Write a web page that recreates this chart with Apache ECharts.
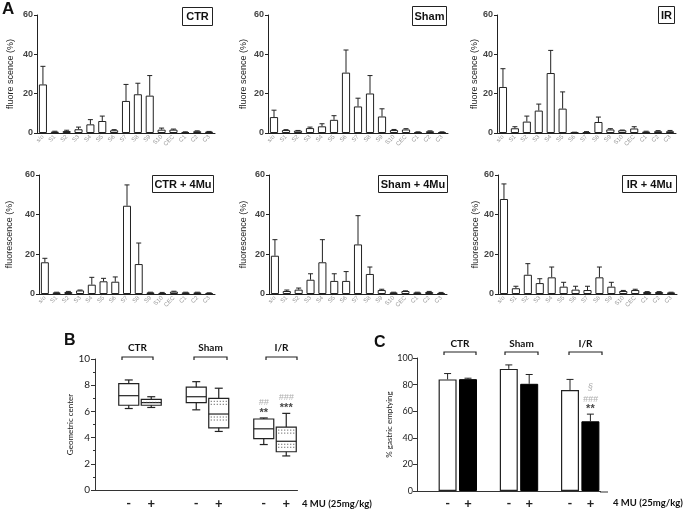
<!DOCTYPE html>
<html><head><meta charset="utf-8">
<script src="https://cdn.jsdelivr.net/npm/echarts@6/dist/echarts.min.js"></script>
<style>html,body{margin:0;padding:0;background:#fff}#c{width:685px;height:510px}</style>
</head><body><div id="c"></div>
<script>
// ---------- DATA ----------
const cats = ['s/o','S1','S2','S3','S4','S5','S6','S7','S8','S9','S10','CEC','C1','C2','C3'];
const ctrMean  = [24.7,0.7,1.0,1.9,4.4,6.1,1.4,16.3,19.7,19.0,1.7,1.7,0.4,0.9,0.7];
const ctrSem   = [9.2,0.2,0.4,1.1,2.4,2.5,0.3,8.4,5.6,10.2,0.8,0.3,0.2,0.2,0.1];
const shamMean = [8.1,1.5,1.2,2.5,3.4,6.7,30.7,13.5,20.1,8.4,1.5,1.8,0.5,0.9,0.5];
const shamSem  = [3.5,0.2,0.1,0.5,1.3,2.1,11.5,4.2,9.1,3.9,0.3,0.4,0.1,0.2,0.1];
const irMean   = [23.4,2.4,5.8,11.4,30.5,12.4,0.3,0.4,5.6,1.8,1.4,2.3,0.7,0.9,0.9];
const irSem    = [9.3,0.8,2.8,3.3,11.5,8.5,0.1,0.3,2.5,0.4,0.1,0.9,0.2,0.3,0.4];
const ctr4Mean = [16.0,0.8,1.0,1.8,4.7,6.4,6.2,44.5,15.1,0.8,0.5,1.2,0.8,0.8,0.5];
const ctr4Sem  = [2.0,0.1,0.3,0.2,3.7,1.5,2.4,10.5,10.6,0.1,0.3,0.2,0.1,0.1,0.1];
const sham4Mean= [19.3,1.5,2.2,7.2,16.0,6.6,6.6,25.0,10.1,2.0,0.8,1.5,0.8,1.0,0.5];
const sham4Sem = [8.1,0.5,0.8,3.0,11.4,3.6,4.7,14.5,3.5,0.4,0.1,0.1,0.1,0.3,0.3];
const ir4Mean  = [47.9,2.9,9.7,5.5,8.4,3.7,2.2,2.0,8.4,3.7,1.5,2.0,1.0,1.0,0.8];
const ir4Sem   = [7.6,1.0,5.6,2.2,5.2,2.2,1.7,1.9,5.2,2.2,0.3,0.4,0.2,0.2,0.1];

// Panel B (geometric center) : [min, Q1, median, Q3, max]
const bCats = ['', 'CTR -', 'CTR +', ' ', 'Sham -', 'Sham +', '  ', 'I/R -', 'I/R +'];
const bBoxCats = ['CTR -','CTR +','Sham -','Sham +','I/R -','I/R +'];
const bStats = [
  [6.22,6.47,7.2,8.12,8.4],
  [6.3,6.47,6.67,6.92,7.12],
  [6.12,6.67,7.12,7.85,8.27],
  [4.47,4.75,5.8,7.0,7.77],
  [3.47,3.92,4.67,5.42,5.5],
  [2.6,2.92,3.72,4.8,5.85]
];
const bStars = [['I/R -',5.9,'**'],['I/R +',6.3,'***']];
const bHash  = [['I/R -',6.7,'##'],['I/R +',7.05,'###']];

// Panel C (% gastric emptying)
const cCats = ['', 'CTR -', 'CTR +', ' ', 'Sham -', 'Sham +', '  ', 'I/R -', 'I/R +'];
const cWhiteCats = ['CTR -','Sham -','I/R -'];
const cBlackCats = ['CTR +','Sham +','I/R +'];
const cWhite = [83.9,91.8,75.9];
const cWhiteSem = [4.4,3.0,8.0];
const cBlack = [84.1,80.6,52.4];
const cBlackSem = [0.7,7.0,5.4];
const cStars = [['I/R +',61.9,'**']];
const cHash  = [['I/R +',68.7,'###'],['I/R +',77.6,'§']];

// ---------- LAYOUT ----------
const AF = 'Liberation Sans, Arial, sans-serif';
const BF = 'Lato, Open Sans, sans-serif';
const panels = [
  {title:'CTR', m:ctrMean, s:ctrSem, yn:'fluore scence (%)', g:{left:37,top:15,width:178,height:118}, gap:22, box:[182,7,30,18]},
  {title:'Sham', m:shamMean, s:shamSem, yn:'fluore scence (%)', g:{left:268,top:15,width:180,height:118}, gap:20, box:[412,6,34,19]},
  {title:'IR', m:irMean, s:irSem, yn:'fluore scence (%)', g:{left:497,top:15,width:179,height:118}, gap:18, box:[658,6,16,17]},
  {title:'CTR + 4Mu', m:ctr4Mean, s:ctr4Sem, yn:'fluorescence (%)', g:{left:39,top:175,width:176,height:119}, gap:25, box:[152,175,61,17]},
  {title:'Sham + 4Mu', m:sham4Mean, s:sham4Sem, yn:'fluorescence (%)', g:{left:269,top:175,width:178,height:119}, gap:21, box:[378,175,69,17]},
  {title:'IR + 4Mu', m:ir4Mean, s:ir4Sem, yn:'fluorescence (%)', g:{left:498,top:175,width:179,height:119}, gap:17, box:[622,175,54,17]}
];

function errRender(hw){
  return function(params, api){
    const x = api.value(0), m = api.value(1), e = api.value(2);
    const p0 = api.coord([x, m]), p1 = api.coord([x, m + e]);
    const st = {stroke:'#222', lineWidth:1};
    return {type:'group', children:[
      {type:'line', shape:{x1:p0[0],y1:p0[1],x2:p1[0],y2:p1[1]}, style:st},
      {type:'line', shape:{x1:p1[0]-hw,y1:p1[1],x2:p1[0]+hw,y2:p1[1]}, style:st}
    ]};
  };
}

function boxRender(params, api){
  const x = api.value(0);
  const v = [1,2,3,4,5].map(i => api.value(i));
  const c = v.map(val => api.coord([x, val]));
  const cx = c[0][0], hw = 10, cw = 4;
  const st = {stroke:'#222', lineWidth:1.2};
  const L = (x1,y1,x2,y2,s) => ({type:'line', shape:{x1,y1,x2,y2}, style:s||st});
  const ch = [
    {type:'rect', shape:{x:cx-hw, y:c[3][1], width:2*hw, height:c[1][1]-c[3][1]}, style:{fill:'#fff', stroke:'#222', lineWidth:1.2}},
    L(cx, c[3][1], cx, c[4][1]), L(cx-cw, c[4][1], cx+cw, c[4][1]),
    L(cx, c[1][1], cx, c[0][1]), L(cx-cw, c[0][1], cx+cw, c[0][1]),
    L(cx-hw, c[2][1], cx+hw, c[2][1])
  ];
  if (params.dataIndex % 2 === 1) {
    const dst = {stroke:'#444', lineWidth:1, lineDash:[1,2]};
    [c[3][1]+3, c[3][1]+6, c[2][1]+3, c[2][1]+6].forEach(y => {
      if (y < c[1][1]-1.5) ch.push(L(cx-hw+2, y, cx+hw-2, y, dst));
    });
  }
  return {type:'group', children:ch};
}

const grid = [], xAxis = [], yAxis = [], series = [], graphic = [];

panels.forEach((p, i) => {
  grid.push(p.g);
  xAxis.push({type:'category', gridIndex:i, data:cats,
    axisLine:{lineStyle:{color:'#222', width:1}}, axisTick:{show:false},
    axisLabel:{rotate:45, fontSize:6, color:'#999', margin:3, interval:0, fontFamily:AF}});
  yAxis.push({type:'value', gridIndex:i, min:0, max:60, interval:20,
    name:p.yn, nameLocation:'middle', nameGap:p.gap,
    nameTextStyle:{fontSize:9, color:'#222', fontFamily:AF},
    axisLine:{show:true, lineStyle:{color:'#222'}}, axisTick:{show:true, length:3, lineStyle:{color:'#222'}},
    axisLabel:{fontSize:9, color:'#444', fontWeight:'bold', margin:4, fontFamily:AF},
    splitLine:{show:false}});
  series.push({type:'bar', xAxisIndex:i, yAxisIndex:i, data:p.m, barWidth:'68%',
    itemStyle:{color:'#fff', borderColor:'#222', borderWidth:1}, silent:true});
  series.push({type:'custom', xAxisIndex:i, yAxisIndex:i, renderItem:errRender(2.5),
    data:p.m.map((v,k)=>[k, v, p.s[k]]), z:5, silent:true});
  graphic.push({type:'group', left:p.box[0], top:p.box[1], children:[
    {type:'rect', shape:{x:0,y:0,width:p.box[2],height:p.box[3]}, style:{fill:'#fff', stroke:'#222', lineWidth:1}},
    {type:'text', x:p.box[2]/2, y:p.box[3]/2+0.5, style:{text:p.title, fontSize:11, fontWeight:'bold', fontFamily:AF, fill:'#111', align:'center', verticalAlign:'middle'}}
  ]});
});

// Panel B
grid.push({left:95, top:359, width:202.5, height:133});
xAxis.push({type:'category', gridIndex:6, data:bCats,
  axisLine:{lineStyle:{color:'#333', width:1}}, axisTick:{show:false},
  axisLabel:{interval:0, margin:7, fontSize:13, fontWeight:'bold', color:'#222', fontFamily:BF, formatter:v => v.trim() ? v.split(' ').pop() : ''}});
yAxis.push({type:'value', gridIndex:6, min:0, max:10, interval:2,
  name:'Geometric center', nameLocation:'middle', nameGap:19,
  nameTextStyle:{fontSize:8, color:'#222', fontFamily:BF},
  axisLine:{show:true, lineStyle:{color:'#333'}}, axisTick:{show:true, length:4, lineStyle:{color:'#333'}},
  minorTick:{show:true, splitNumber:2, length:2, lineStyle:{color:'#333'}},
  axisLabel:{fontSize:10, color:'#222', margin:5, fontFamily:BF}, splitLine:{show:false}});
series.push({type:'custom', xAxisIndex:6, yAxisIndex:6, renderItem:boxRender,
  encode:{x:0, y:[1,2,3,4,5]}, data:bStats.map((s,k)=>[bBoxCats[k], ...s]), silent:true});
series.push({type:'scatter', xAxisIndex:6, yAxisIndex:6, symbolSize:0, silent:true,
  data:bStars.map(a=>({value:[a[0],a[1]], label:{formatter:a[2]}})),
  label:{show:true, position:'inside', fontSize:11, fontWeight:'bold', color:'#111', fontFamily:AF}});
series.push({type:'scatter', xAxisIndex:6, yAxisIndex:6, symbolSize:0, silent:true,
  data:bHash.map(a=>({value:[a[0],a[1]], label:{formatter:a[2]}})),
  label:{show:true, position:'inside', fontSize:9, fontStyle:'italic', color:'#999', fontFamily:AF}});

// Panel C
grid.push({left:417, top:358, width:183.6, height:134});
xAxis.push({type:'category', gridIndex:7, data:cCats,
  axisLine:{lineStyle:{color:'#333', width:1}}, axisTick:{show:false},
  axisLabel:{interval:0, margin:6, fontSize:13, fontWeight:'bold', color:'#222', fontFamily:BF, formatter:v => v.trim() ? v.split(' ').pop() : ''}});
yAxis.push({type:'value', gridIndex:7, min:0, max:100, interval:20,
  name:'% gastric emptying', nameLocation:'middle', nameGap:21,
  nameTextStyle:{fontSize:8, color:'#222', fontFamily:BF},
  axisLine:{show:true, lineStyle:{color:'#333'}}, axisTick:{show:true, length:4, lineStyle:{color:'#333'}},
  axisLabel:{fontSize:9, color:'#222', margin:4, fontFamily:BF}, splitLine:{show:false}});
series.push({type:'bar', xAxisIndex:7, yAxisIndex:7, barWidth:18, barGap:'-100%', silent:true,
  data:cWhite.map((v,k)=>[cWhiteCats[k], v]), itemStyle:{color:'#fff', borderColor:'#222', borderWidth:1.2}});
series.push({type:'bar', xAxisIndex:7, yAxisIndex:7, barWidth:18, barGap:'-100%', silent:true,
  data:cBlack.map((v,k)=>[cBlackCats[k], v]), itemStyle:{color:'#000', borderColor:'#000', borderWidth:1}});
series.push({type:'custom', xAxisIndex:7, yAxisIndex:7, renderItem:errRender(3.5), silent:true, z:5,
  encode:{x:0, y:[1,2]},
  data:cWhite.map((v,k)=>[cWhiteCats[k], v, cWhiteSem[k]]).concat(cBlack.map((v,k)=>[cBlackCats[k], v, cBlackSem[k]]))});
series.push({type:'scatter', xAxisIndex:7, yAxisIndex:7, symbolSize:0, silent:true,
  data:cStars.map(a=>({value:[a[0],a[1]], label:{formatter:a[2]}})),
  label:{show:true, position:'inside', fontSize:11, fontWeight:'bold', color:'#111', fontFamily:AF}});
series.push({type:'scatter', xAxisIndex:7, yAxisIndex:7, symbolSize:0, silent:true,
  data:cHash.map(a=>({value:[a[0],a[1]], label:{formatter:a[2]}})),
  label:{show:true, position:'inside', fontSize:9, fontStyle:'italic', color:'#999', fontFamily:AF}});

// Decorations
const T = (x,y,text,o) => Object.assign({type:'text', x, y, style:Object.assign({text, fill:'#111', fontFamily:BF, fontSize:10}, o||{})});
graphic.push(T(2,1,'A',{fontSize:17, fontWeight:'bold', fontFamily:AF}));
graphic.push(T(64,333,'B',{fontSize:16, fontWeight:'bold', fontFamily:AF}));
graphic.push(T(374,335,'C',{fontSize:16, fontWeight:'bold', fontFamily:AF}));
const br = (x1,x2,y) => ({type:'polyline', shape:{points:[[x1,y+3],[x1,y],[x2,y],[x2,y+3]]}, style:{stroke:'#222', lineWidth:1.2, fill:null}});
[[122,153,'CTR',137.5],[194,227,'Sham',210.5],[266,297,'I/R',281.5]].forEach(b => {
  graphic.push(br(b[0],b[1],357));
  graphic.push(T(b[3],348,b[2],{align:'center', verticalAlign:'middle', fontSize:10, fontWeight:'bold'}));
});
[[444,476,'CTR',460],[505,538,'Sham',521.5],[569,602,'I/R',585.5]].forEach(b => {
  graphic.push(br(b[0],b[1],352));
  graphic.push(T(b[3],344,b[2],{align:'center', verticalAlign:'middle', fontSize:10, fontWeight:'bold'}));
});
graphic.push(T(302,504,'4 MU (25mg/kg)',{verticalAlign:'middle', fontSize:9.5, fontWeight:'bold'}));
graphic.push(T(613,503,'4 MU (25mg/kg)',{verticalAlign:'middle', fontSize:9.5, fontWeight:'bold'}));
graphic.push({type:'line', shape:{x1:600,y1:492,x2:608,y2:492}, style:{stroke:'#333', lineWidth:1}});

const chart = echarts.init(document.getElementById('c'), null, {renderer:'canvas'});
chart.setOption({animation:false, backgroundColor:'#fff', grid, xAxis, yAxis, series, graphic});
</script></body></html>
